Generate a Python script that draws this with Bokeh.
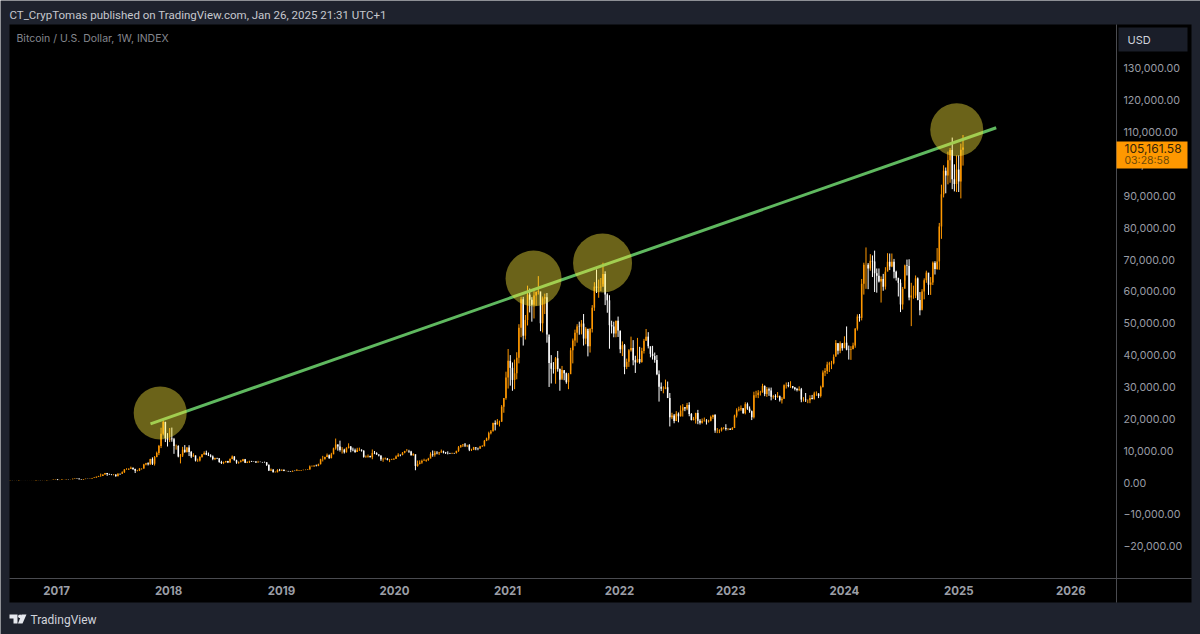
from bokeh.plotting import figure
from bokeh.models import (ColumnDataSource, FixedTicker, BoxAnnotation, Label,
                          PolyAnnotation, Range1d)
from bokeh.embed import file_html
from bokeh.resources import INLINE

# ---------- weekly BTC/USD values (first week: Aug 2016) ----------
closes_2016 = [588,570,580,575,608,607,608,600,613,615,640,655,700,705,700,730,735,770,775,790,890,965]
highs_2016 = [615,600,590,590,615,615,615,612,618,620,642,660,740,745,745,750,752,780,778,800,900,975]
lows_2016 = [520,560,565,565,570,600,600,590,595,608,612,630,650,680,685,690,720,730,750,760,785,885]

closes_2017 = [820,825,920,920,1015,1000,1055,1165,1270,1225,1025,950,1085,1175,1170,1225,1420,1555,1775,2040,2050,2520,2950,2650,2560,2500,2500,1975,2750,2730,3220,4050,4090,4340,4610,4230,3700,3780,4370,4430,5640,6010,5730,7370,5860,8040,9290,11500,15300,19100,14000,13400]
highs_2017 = [1030,840,925,930,1030,1050,1060,1200,1290,1330,1260,1070,1090,1190,1220,1240,1430,1600,1860,2100,2790,2540,3000,3000,2780,2600,2640,2530,2900,2830,3490,4200,4480,4420,5000,4700,4350,3990,4470,4470,5860,6160,6340,7450,7890,8320,9700,11800,17200,19700,19000,15500]
lows_2017 = [750,750,805,880,905,920,980,1040,1100,1100,970,890,900,1050,1110,1170,1240,1400,1520,1790,1800,2100,2430,2100,2400,2300,2250,1840,1970,2400,2700,3010,3980,3950,4280,3950,2970,3500,3600,4050,4330,5390,5350,5550,5510,5320,7900,8600,10800,14800,12700,11300]

closes_2018 = [13800,13600,11500,11500,8200,8500,10300,9600,11000,9550,8200,8500,6900,6900,8000,8800,9300,8700,8500,8200,7350,7700,7600,6450,6150,6380,6750,6250,7400,8200,7000,6300,6400,6700,7300,6200,6500,6700,6600,6580,6300,6420,6410,6400,6350,5550,3800,4000,3200,3200,3950,3800,4000]
highs_2018 = [17100,17250,14000,11900,11700,8950,11200,11750,11100,11700,9900,9170,8500,7500,8250,8930,9770,9990,9400,8880,8500,7800,7780,7590,6830,6580,6800,6800,7580,8490,8270,7150,6600,7100,7410,7400,6580,6840,6800,6680,6700,6800,6590,6460,6550,6380,5640,4400,4250,3500,4180,4280,4100]
lows_2018 = [12700,12800,9000,10300,7900,6000,8000,9300,9400,8300,7650,8100,6600,6500,6600,7800,8750,8600,8350,7900,7000,7050,7350,6200,5800,5780,6250,6100,6200,7300,6900,5880,5900,6300,6700,6100,6100,6120,6440,6480,6150,6340,6380,6200,6250,5200,3600,3600,3150,3120,3220,3550,3650]

closes_2019 = [3600,3600,3530,3420,3660,3610,3740,3820,3900,3980,3990,4100,5050,5060,5300,5200,5750,7250,7260,8000,8550,7650,8850,10700,11900,11300,10200,10300,9500,10800,11300,10300,10100,9600,10300,10300,10000,8050,8150,8300,7960,9250,9200,8800,8500,7300,7400,7500,7100,7150,7250,7350]
highs_2019 = [4070,3730,3660,3530,3730,3720,4190,3900,3910,4000,4090,4150,5350,5350,5350,5620,5900,7450,8370,8100,9090,8800,9320,10950,13800,12000,13130,11100,10600,11080,12300,11450,10950,10650,10900,10950,10400,10100,8500,8790,8420,10370,9900,9500,8860,8500,7800,7850,7700,7400,7440,7650]
lows_2019 = [3550,3540,3450,3350,3370,3590,3610,3660,3670,3850,3880,3950,4070,4950,5000,5050,5120,5670,6600,7450,7950,7450,7600,8900,10300,10000,9700,9100,9100,9400,10700,9500,9800,9300,9600,9900,9700,7800,7750,7800,7900,7300,8900,8700,8200,6800,6500,7200,6950,6400,7050,7150]

closes_2020 = [8170,8700,8600,9350,9900,9900,9700,8550,8900,5200,5830,6250,6780,6850,7050,7500,8900,8720,9380,9180,9450,9750,9460,9300,9150,9080,9230,9200,9930,11050,11700,11900,11650,11700,10300,10300,11080,10750,10670,11300,11370,13100,13800,15500,16000,18700,18200,19100,19150,23800,26500,33000]
highs_2020 = [8500,9190,8800,9560,9950,10500,10250,9950,9180,8200,6900,6950,7190,7470,7300,7740,9480,10050,9950,9840,9600,10350,10000,9600,9790,9310,9360,9310,9970,11450,11800,12090,12400,11850,12050,10600,11180,11000,10950,11500,11720,13350,14090,15950,16480,18800,19500,19920,19420,24300,26500,34800]
lows_2020 = [7650,8100,8230,8570,9170,9720,9300,8450,8400,3850,4950,5680,5870,6750,6500,6800,7680,8100,8120,8850,8650,9320,9150,8950,8830,8950,9070,9040,9130,9620,10950,11150,11130,11120,9850,9880,10180,10130,10130,10540,11150,11400,12990,13250,15100,16250,16350,18200,17600,19000,21900,26000]

closes_2021 = [38200,36000,32200,34300,39200,48600,57500,46100,51000,59000,57400,55800,58700,59800,60000,50000,57800,58200,46500,37500,35700,35600,39000,35600,32300,35300,34300,31500,34000,41500,44600,47000,49000,48900,49900,45200,48300,42800,48200,54900,61500,61200,61300,61500,65500,59000,57200,49400,49000,46800,50800,47700]
highs_2021 = [41900,40000,37700,38600,40900,49700,58300,58300,52600,61800,60900,58200,60100,60000,64800,56700,58400,59300,59500,45700,40000,37800,39400,41300,35800,36600,35000,34500,34400,42300,45200,48000,49700,50500,51000,52900,48800,47600,48500,55700,62900,66900,63700,64200,69000,66300,59400,58800,50800,50500,50800,52100]
lows_2021 = [29500,30400,28800,29300,32400,37400,45600,43000,44900,49300,53400,50500,51500,55500,59000,47500,47100,52900,43900,30000,31100,34200,31000,34800,28800,32700,32100,31000,29300,35200,37400,42800,43900,46400,46500,43000,43400,39600,40800,47100,53900,59500,58000,60100,62300,55700,53300,42000,46800,45600,45600,45700]

closes_2022 = [41800,43100,36300,37900,41500,42200,38400,37700,38800,37800,41300,44500,45800,42800,40400,39700,38500,34000,30100,29400,29400,29900,26500,20500,21000,19300,21600,20800,22600,23600,23200,24300,21500,19600,20000,21800,19400,18800,19300,19400,19200,19400,20600,21300,16300,16300,16400,17100,17100,16800,16850,16600]
highs_2022 = [47500,44300,43500,38900,41900,45800,44700,39800,45400,42600,42300,45100,48200,47200,42400,42900,40800,40000,35200,31400,30200,32300,31700,28100,21900,21500,22400,22000,24200,24600,23700,25000,25200,21800,20600,21900,22800,19900,20100,20400,19900,19700,21000,21000,21400,17100,16700,17300,17400,18300,17000,17000]
lows_2022 = [40600,39700,34000,35600,36300,41100,36800,34400,37700,37300,37600,40500,44500,42100,39300,38600,37600,33700,25400,28700,28000,29300,28900,17600,19900,18600,19300,18900,20700,20700,22400,22700,20800,19500,19500,18500,18300,18200,18500,19100,18200,18800,19200,20000,15600,15500,15500,16000,16700,16300,16400,16500]

closes_2023 = [17100,21000,22700,23000,23300,21800,24600,23200,22400,20500,27400,27500,28200,28300,30300,27800,29300,28900,26900,27100,26850,27100,25850,26300,30500,30600,30300,30300,29800,29350,29050,29300,26050,26050,25850,25850,26550,26250,27950,27950,27150,29950,34500,35000,37050,37400,37450,39450,43800,41400,43700,42150]
highs_2023 = [17400,21300,23300,23800,24200,23400,25200,25100,23900,22600,28500,28800,29000,28800,31000,30500,30000,29800,29800,27500,27700,28400,27300,26800,30800,31400,31500,31800,30300,30000,29700,30200,29700,26800,28100,26100,27400,27500,28500,28600,28000,30400,35200,35900,37900,37900,38200,40200,44700,43500,44300,43800]
lows_2023 = [16500,17300,20400,22300,22500,21500,21400,22800,21900,19600,20100,26600,26500,27300,28200,27100,26900,27200,25800,26300,25900,26600,25400,24800,26300,29500,29900,29700,29500,28900,28600,28700,25200,25400,25300,24900,24900,26100,26000,27200,26500,26700,29800,33400,34100,34700,35600,37100,39900,40200,40600,41400]

closes_2024 = [43900,41700,41600,41800,43000,48300,52100,51700,62400,68400,68400,67200,69600,69400,65700,64900,63100,63900,61500,66200,69300,67800,69300,66200,64300,62700,55900,60800,68100,68000,58100,58700,58700,64100,57300,54100,60000,63500,65900,62100,62800,69000,67000,69400,80400,90500,97900,96400,101200,104400,95200,93700,98300]
highs_2024 = [45900,49000,43000,42800,43900,48500,52800,52900,63900,69000,73800,68900,71700,71300,72800,67200,67200,64700,65500,67600,72000,71900,71900,70200,66500,63400,63800,61400,68400,70000,70100,62700,61800,65000,64400,59800,60700,64100,66500,64500,64500,69400,69500,73600,81500,93500,99600,98900,103900,105000,108300,99900,102700]
lows_2024 = [42600,41500,38600,38500,41900,42300,47700,50500,50900,59000,60800,60700,66500,64500,59800,59600,62800,56500,60200,60600,66700,66700,67600,64100,63400,58400,53500,54300,63400,65000,57200,49100,57700,57900,57200,52500,54600,57500,62700,58900,58900,62000,65300,66800,66800,76500,89500,90800,93600,94100,92100,91400,91200]

closes_2025 = [94500,104500,105162]
highs_2025 = [102700,106400,109100]
lows_2025 = [91200,89200,99500]

trend_weeks = [65.1, 457.4]
trend_prices = [18430, 111370]
circle_weeks = [69.6, 242.8, 274.8, 439.1]
circle_prices = [21820, 64050, 68920, 110770]

x_tick_weeks = [21.5, 73.5, 125.9, 178.3, 230.8, 282.7, 334.3, 387.0, 440.0, 492.0]
x_tick_labels = ["2017","2018","2019","2020","2021","2022","2023","2024","2025","2026"]
y_tick_values = [130000,120000,110000,100000,90000,80000,70000,60000,50000,40000,30000,20000,10000,0,-10000,-20000]
y_tick_labels = ["130,000.00","120,000.00","110,000.00","100,000.00","90,000.00","80,000.00","70,000.00","60,000.00","50,000.00","40,000.00","30,000.00","20,000.00","10,000.00","0.00","\u221210,000.00","\u221220,000.00"]

closes = closes_2016+closes_2017+closes_2018+closes_2019+closes_2020+closes_2021+closes_2022+closes_2023+closes_2024+closes_2025
highs = highs_2016+highs_2017+highs_2018+highs_2019+highs_2020+highs_2021+highs_2022+highs_2023+highs_2024+highs_2025
lows = lows_2016+lows_2017+lows_2018+lows_2019+lows_2020+lows_2021+lows_2022+lows_2023+lows_2024+lows_2025
assert len(closes) == len(highs) == len(lows), (len(closes), len(highs), len(lows))
opens = [closes[0]] + closes[:-1]
weeks = list(range(len(closes)))
UP, DOWN = "#ff9800", "#ffffff"
colors = [UP if c >= o else DOWN for o, c in zip(opens, closes)]
src = ColumnDataSource(dict(x=weeks, o=opens, c=closes, h=highs, l=lows, color=colors))

PAGE = "#1e222d"
W, H = 1200, 634
FONT = "Inter"
SEP = "#4a4b50"

# The plotting frame fills the canvas; the chart pane is the black box 9..1116 x 24..578.
WK_PER_PX = 513.5 / 1107
USD_PER_PX = 173940 / 554

def dx(px):
    return -0.3 + (px - 9) * WK_PER_PX

def dy(py):
    return -30140 + (578 - py) * USD_PER_PX

p = figure(width=W, height=H, output_backend="svg", toolbar_location=None,
           x_range=Range1d(dx(0), dx(W)), y_range=Range1d(dy(H), dy(0)),
           min_border=0, y_axis_location="right",
           background_fill_color=PAGE, border_fill_color=PAGE, outline_line_color=None)
p.grid.visible = False

def box(l, t, r, b, color, **kw):
    """Box given in page pixels."""
    return BoxAnnotation(left=dx(l), right=dx(r), top=dy(t), bottom=dy(b),
                         fill_color=color, fill_alpha=1, line_color=None, **kw)

def text(s, x, y, size, color, font=FONT, weight="normal"):
    return Label(x=dx(x), y=dy(y), text=s, text_font=font,
                 text_font_size=f"{size}px", text_color=color, text_align="left", text_baseline="middle",
                 text_font_style=weight)

# black panes
p.add_layout(box(9, 24, 1191, 602, "#000000", level="underlay"))

# axes
xa = p.xaxis[0]
xa.fixed_location = dy(578)
xa.bounds = (dx(9), dx(1191))
xa.ticker = FixedTicker(ticks=x_tick_weeks)
xa.major_label_overrides = dict(zip(x_tick_weeks, x_tick_labels))
xa.axis_line_color = SEP
xa.major_tick_line_color = None
xa.minor_tick_line_color = None
xa.major_tick_out = 0
xa.major_tick_in = 0
xa.major_label_text_color = "#9b9ea6"
xa.major_label_text_font = FONT
xa.major_label_text_font_size = "11.5px"
xa.major_label_text_font_style = "bold"
xa.major_label_standoff = 7

ya = p.yaxis[0]
ya.fixed_location = dx(1116)
ya.bounds = (dy(602), dy(24))
ya.ticker = FixedTicker(ticks=y_tick_values)
ya.major_label_overrides = dict(zip(y_tick_values, y_tick_labels))
ya.axis_line_color = SEP
ya.major_tick_line_color = None
ya.minor_tick_line_color = None
ya.major_tick_out = 0
ya.major_tick_in = 0
ya.major_label_text_color = "#999ca5"
ya.major_label_text_font = FONT
ya.major_label_text_font_size = "10.7px"
ya.major_label_standoff = 7

# candles
p.segment("x", "l", "x", "h", source=src, line_color="color", line_width=1)
p.vbar(x="x", top="o", bottom="c", width=0.7, source=src, fill_color="color", line_color=None)

# drawings
p.line(trend_weeks, trend_prices, line_color="#5fb85f", line_width=3)
p.scatter(circle_weeks, circle_prices, marker="circle", size=[53, 56, 59, 53],
          fill_color="#ffeb3b", fill_alpha=0.42, line_color=None)

# header, legend, price tag, footer
p.add_layout(text("CT_CrypTomas published on TradingView.com, Jan 26, 2025 21:31 UTC+1", 9, 14, 11.5, "#c6c8ce", font="Roboto"))
p.add_layout(text("Bitcoin / U.S. Dollar, 1W, INDEX", 16, 38, 10.5, "#85878f"))
p.add_layout(box(1118, 27, 1187, 51, "#1a1e29"))
p.add_layout(text("USD", 1127, 39, 11, "#d1d4dc"))
p.add_layout(box(1116, 141, 1187, 168, "#ff9800"))
p.add_layout(text("105,161.58", 1124, 148, 12, "#33240a"))
p.add_layout(text("03:28:58", 1124, 160, 10.5, "#6e4a08"))

def poly(pts, color="#e6e8ee"):
    return PolyAnnotation(xs=[dx(a) for a, _ in pts], ys=[dy(b) for _, b in pts],
                          fill_color=color, fill_alpha=1, line_color=None)
p.add_layout(poly([(9,614),(17,614),(17,623),(13,623),(13,618),(9,618)]))
p.add_layout(poly([(18,614.6),(20,614),(21.4,615.6),(20.4,617.6),(18.4,617.6),(17.6,616)]))
p.add_layout(poly([(21,614),(26,614),(22,623),(17.5,623)]))
p.add_layout(text("TradingView", 30, 619, 12, "#d1d4dc", font="Roboto"))

open("out.html", "w").write(file_html(p, INLINE))
